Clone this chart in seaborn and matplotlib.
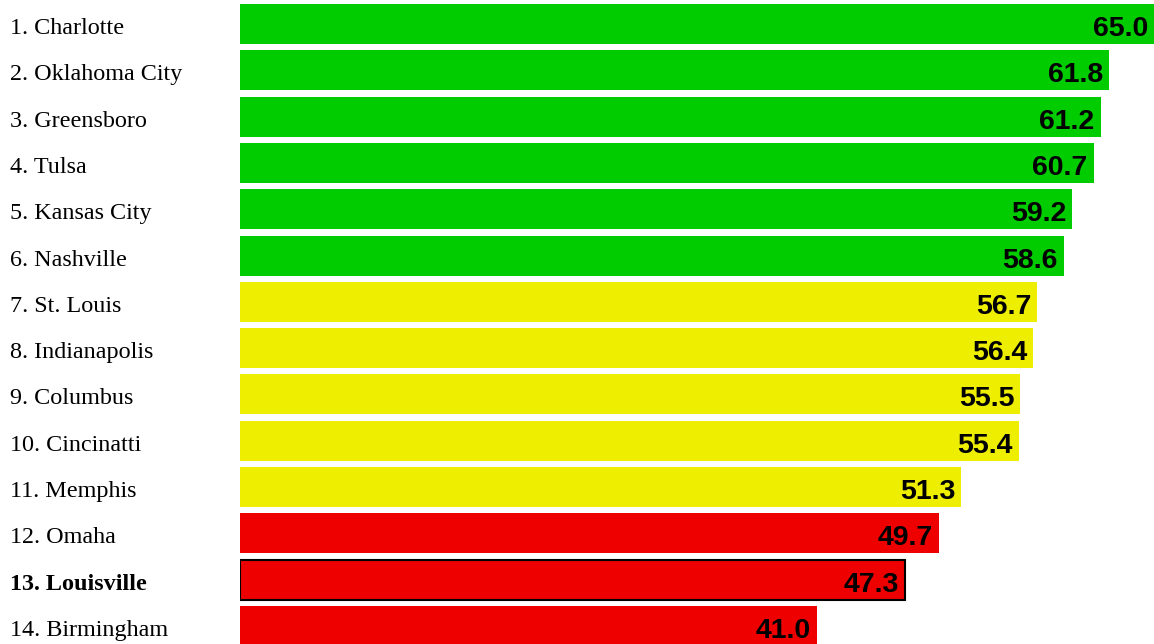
import matplotlib
matplotlib.use("Agg")
import matplotlib.pyplot as plt
import matplotlib.transforms as mtransforms
import seaborn as sns
import pandas as pd

cities = ["1. Charlotte", "2. Oklahoma City", "3. Greensboro", "4. Tulsa",
          "5. Kansas City", "6. Nashville", "7. St. Louis", "8. Indianapolis",
          "9. Columbus", "10. Cincinatti", "11. Memphis", "12. Omaha",
          "13. Louisville", "14. Birmingham"]
scores = [65.0, 61.8, 61.2, 60.7, 59.2, 58.6, 56.7, 56.4, 55.5, 55.4, 51.3, 49.7, 47.3, 41.0]
tiers = ["top", "top", "top", "top", "top", "top", "mid", "mid", "mid", "mid", "mid",
         "low", "low", "low"]
tier_colors = {"top": "#00CC00", "mid": "#EEEE00", "low": "#EE0000"}
highlight = "13. Louisville"

df = pd.DataFrame({"city": cities, "score": scores, "tier": tiers})

sns.set_theme(style="white")
W, H, DPI = 1154, 644, 100
fig = plt.figure(figsize=(W / DPI, H / DPI), dpi=DPI)
ax = fig.add_axes([240 / W, 0, 914 / W, 1])

sns.barplot(data=df, x="score", y="city", hue="tier", palette=tier_colors,
            order=cities, width=0.864, dodge=False, legend=False, ax=ax,
            saturation=1, linewidth=0)

# outline the highlighted city
for patch in ax.patches:
    y_mid = patch.get_y() + patch.get_height() / 2
    idx = int(round(y_mid))
    if 0 <= idx < len(cities) and cities[idx] == highlight and patch.get_width() > 0:
        patch.set_edgecolor("black")
        patch.set_linewidth(1.5)

ax.set_xlim(0, 65)
ax.set_ylim(13.39, -0.518)
ax.set_axis_off()

lab_tf = mtransforms.blended_transform_factory(fig.transFigure, ax.transData)
px = 1.0 / 46.3
for i, (c, v) in enumerate(zip(cities, scores)):
    ax.text(10 / W, i + 10 * px, c, transform=lab_tf, ha="left", va="baseline",
            fontsize=17.4, family="Liberation Serif",
            fontweight="bold" if c == highlight else "normal", color="black")
    ax.text(v - 6 / 14.06, i + 12 * px, f"{v:.1f}", ha="right", va="baseline",
            fontsize=20.5, family="Liberation Sans", fontweight="bold", color="black")

fig.savefig("out.png", dpi=DPI)
